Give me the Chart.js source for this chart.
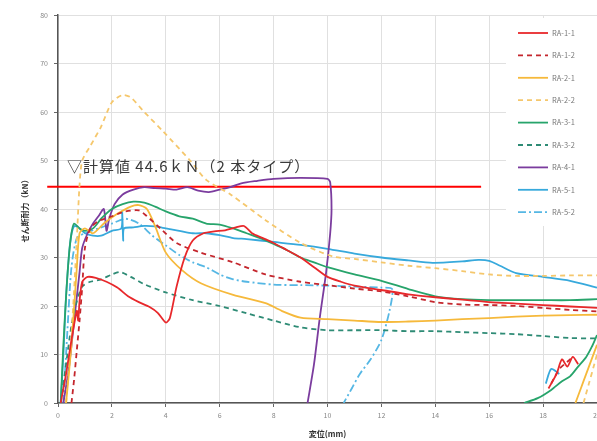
<!DOCTYPE html>
<html>
<head>
<meta charset="utf-8">
<script src="https://cdn.jsdelivr.net/npm/chart.js@4.4.1/dist/chart.umd.min.js"></script>
<style>
  html, body { margin: 0; padding: 0; background: #fff; overflow: hidden; }
  #wrap { width: 597px; height: 441px; overflow: hidden; position: relative; }
  canvas { display: block; }
</style>
</head>
<body>
<div id="wrap"><canvas id="c" width="620" height="441"></canvas></div>
<script>
// Load–displacement curves, [displacement mm, shear force kN]; a null force breaks the line.
const RA_1_1 = [[0.1,0],[0.3,6],[0.5,13],[0.7,19],[0.75,17],[0.8,21],[0.9,25],[1.1,26],[1.4,25.8],[1.8,25],[2.2,23.8],[2.6,22],[3.0,20.8],[3.4,19.8],[3.7,18.6],[4.0,16.6],[4.15,17.5],[4.4,24],[4.7,30],[5.0,33.5],[5.4,35],[5.8,35.4],[6.2,35.6],[6.6,36.2],[6.9,36.5],[7.2,35],[7.6,34],[8.0,33],[8.5,31.5],[9.0,30],[9.5,28],[10.0,26],[10.5,25],[11.0,24.2],[12.0,23.3],[13.0,22.4],[14.0,21.8],[15.0,21.3],[16.0,20.8],[17.0,20.5],[18.0,20.2],[19.0,19.9],[20.0,19.6],
  [18.2,null],[18.2,3],[18.5,6],[18.7,9],[18.9,7.5],[19.1,9.5],[19.3,8]];
const RA_1_2 = [[0.5,0],[0.6,5],[0.7,11],[0.8,17],[0.9,24],[1.0,32],[1.2,36],[1.5,37.5],[2.0,38.5],[2.5,39.5],[3.0,39.7],[3.3,38.5],[3.8,36],[4.4,33],[5.3,31],[6.5,29],[7.7,26.5],[9.0,25],[10.0,24.3],[11.0,23.6],[12.0,23],[13.0,22],[14.0,20.8],[15.0,20.3],[16.0,20.2],[17.0,20],[18.0,19.6],[19.0,19.2],[20.0,18.9],
  [18.3,null],[18.3,4],[18.6,7],[18.9,8.5],[19.1,9.5]];
const RA_2_1 = [[0.3,0],[0.5,12],[0.7,28],[0.8,35],[1.0,36],[1.3,35],[1.7,37],[2.2,39],[2.7,40.5],[3.0,40.8],[3.3,40],[3.6,36.5],[4.0,31],[4.6,27.4],[5.3,24.7],[6.5,22.3],[7.7,20.6],[8.3,19],[9.0,17.6],[10.0,17.3],[11.0,17],[12.0,16.7],[13.0,16.8],[14.0,17],[15.0,17.3],[16.0,17.5],[17.0,17.8],[18.0,18],[19.0,18.1],[20.0,18.2],
  [19.2,null],[19.2,0],[19.4,3],[19.6,6],[19.8,9],[20.0,12]];
const RA_2_2 = [[0.3,0],[0.5,14],[0.7,34],[0.8,45],[0.9,50],[1.2,53],[1.6,57],[2.0,62],[2.4,63.5],[2.7,63],[3.2,60],[3.9,56],[4.9,50],[5.5,46],[6.4,43],[7.7,37.7],[9.0,33],[10.2,30.2],[11.0,29.7],[12.0,29],[13.0,28.3],[14.0,27.8],[15.0,27.2],[16.0,26.5],[17.0,26.2],[18.0,26.2],[19.0,26.3],[20.0,26.3],
  [19.5,null],[19.5,0],[19.7,4],[19.9,8],[20.0,10]];
const RA_3_1 = [[0.1,0],[0.2,12],[0.3,22],[0.4,30],[0.5,35],[0.6,37],[0.8,36],[1.0,35.5],[1.3,36],[1.6,38],[2.0,40],[2.4,41],[2.8,41.5],[3.2,41.3],[3.6,40.5],[4.0,39.5],[4.5,38.5],[5.0,38],[5.5,37],[6.0,36.8],[6.5,36],[7.0,35],[7.5,34],[8.0,32.8],[8.5,31.5],[9.0,30],[9.5,29],[10.0,28],[11.0,26.5],[12.0,25.2],[13.0,23.5],[14.0,22],[15.0,21.4],[16.0,21.2],[17.0,21.2],[18.0,21.2],[19.0,21.2],[20.0,21.4],
  [17.3,null],[17.3,0],[17.8,1],[18.3,2.7],[18.7,4.5],[19.0,5.5],[19.3,7.5],[19.6,9.5],[19.8,11.5],[20.0,14]];
const RA_3_2 = [[0.1,0],[0.3,8],[0.5,16],[0.7,21],[0.9,24],[1.2,25],[1.6,25.5],[2.0,26.5],[2.3,27],[2.7,26],[3.2,24.5],[4.0,22.8],[5.0,21.2],[6.0,20],[7.0,18.5],[8.0,17],[9.0,15.6],[10.0,15],[11.0,15],[12.0,15],[13.0,14.8],[14.0,14.8],[15.0,14.6],[16.0,14.4],[17.0,14.2],[18.0,13.8],[19.0,13.4],[20.0,13.3]];
const RA_4_1 = [[0.2,0],[0.4,7],[0.6,17],[0.8,27],[0.9,32],[1.1,35],[1.3,37],[1.5,38.5],[1.7,40],[1.8,35.5],[1.9,38],[2.1,41],[2.4,43],[2.8,44],[3.2,44.5],[3.6,44.3],[4.0,44.2],[4.4,44],[4.8,44.5],[5.2,43.8],[5.6,43.5],[6.0,44],[6.4,44.5],[6.8,45.3],[7.4,45.8],[8.0,46.2],[9.0,46.4],[10.0,46.2],[10.1,45.5],[10.15,40],[10.1,35],[9.95,27],[9.7,17],[9.5,8],[9.26,0]];
const RA_5_1 = [[0.1,0],[0.2,10],[0.3,22],[0.45,33],[0.6,36.5],[0.8,36],[1.0,35],[1.3,34.5],[1.6,34.5],[2.0,35.5],[2.35,36],[2.38,39.5],[2.42,33.5],[2.45,36],[2.8,36.2],[3.2,36.5],[3.6,36.4],[4.0,36],[4.5,35.5],[5.0,35],[5.5,35],[6.0,34.6],[6.5,34],[7.0,33.8],[8.0,33.2],[9.0,32.6],[10.0,31.8],[11.0,30.8],[12.0,30],[13.0,29.4],[13.9,28.9],[15.0,29.2],[15.6,29.5],[16.0,29.3],[16.4,28.3],[17.0,26.8],[18.0,26],[19.0,25.2],[20.0,23.8],
  [18.1,null],[18.1,4],[18.3,7],[18.6,6]];
const RA_5_2 = [[0.2,0],[0.35,15],[0.5,28],[0.7,34],[1.0,35],[1.5,36],[2.0,37],[2.5,38],[3.0,37],[3.5,34.5],[4.0,32.5],[4.5,30.5],[5.0,29],[5.5,28],[6.0,26.5],[6.5,25.5],[7.0,25],[8.0,24.4],[9.0,24.3],[10.0,24.2],[11.0,24],[12.0,23.8],[12.4,23.5],[12.3,19],[12.0,13],[11.6,9],[11.2,6],[10.9,3],[10.6,0]];

const SERIES_NAMES = ['RA-1-1','RA-1-2','RA-2-1','RA-2-2','RA-3-1','RA-3-2','RA-4-1','RA-5-1','RA-5-2'];
const SERIES_DATA  = [RA_1_1, RA_1_2, RA_2_1, RA_2_2, RA_3_1, RA_3_2, RA_4_1, RA_5_1, RA_5_2];

// Design capacity line (2-bar type) and its span along the displacement axis.
const CALC_VALUE = 44.6;
const CALC_SPAN = [-0.4, 15.7];

const X_TICKS = { min: 0, max: 20, step: 2 };
const Y_TICKS = { min: 0, max: 80, step: 10 };

const FONT = "'Noto Sans CJK JP', 'Noto Sans', sans-serif";

const STYLES = [
  { color: '#e8282b', dash: [] },
  { color: '#c4262d', dash: [5, 4] },
  { color: '#f6b93b', dash: [] },
  { color: '#f5c76c', dash: [5, 4] },
  { color: '#27a46b', dash: [] },
  { color: '#2e8b75', dash: [5, 4] },
  { color: '#7b3c9e', dash: [] },
  { color: '#37a9dc', dash: [] },
  { color: '#55b7e4', dash: [8, 3, 2, 3] }
];

const toPoints = arr => arr.map(([x, y]) => ({ x, y }));

const datasets = SERIES_DATA.map((d, i) => ({
  label: SERIES_NAMES[i],
  data: toPoints(d),
  borderColor: STYLES[i].color,
  borderDash: STYLES[i].dash,
  borderWidth: 1.8,
  pointRadius: 0,
  tension: 0.25,
  fill: false,
  spanGaps: false
}));

datasets.push({
  label: 'calc',
  data: toPoints(CALC_SPAN.map(x => [x, CALC_VALUE])),
  borderColor: '#ff0000',
  borderWidth: 2,
  pointRadius: 0,
  tension: 0,
  clip: false
});

// Text label above the design capacity line.
const calcLabel = {
  id: 'calcLabel',
  afterDatasetsDraw(chart) {
    const { ctx } = chart;
    ctx.save();
    ctx.font = `15px ${FONT}`;
    ctx.letterSpacing = '1px';
    ctx.fillStyle = '#3a3a3a';
    ctx.textBaseline = 'middle';
    ctx.textAlign = 'left';
    ctx.fillText(`▽計算値 ${CALC_VALUE}ｋＮ（2 本タイプ）`, 67, 166);
    ctx.restore();
  }
};

// Legend box in the upper right corner of the plot.
const sideLegend = {
  id: 'sideLegend',
  afterDatasetsDraw(chart) {
    const { ctx } = chart;
    ctx.save();
    ctx.fillStyle = '#fff';
    ctx.fillRect(506, 18, 120, 208);
    SERIES_NAMES.forEach((name, i) => {
      const y = 33 + i * 22.4;
      ctx.strokeStyle = STYLES[i].color;
      ctx.lineWidth = 1.8;
      ctx.setLineDash(STYLES[i].dash);
      ctx.beginPath();
      ctx.moveTo(518, y);
      ctx.lineTo(548, y);
      ctx.stroke();
      ctx.setLineDash([]);
      ctx.font = `7.5px ${FONT}`;
      ctx.fillStyle = '#777';
      ctx.textBaseline = 'middle';
      ctx.textAlign = 'left';
      ctx.fillText(name, 552, y);
    });
    ctx.restore();
  }
};

new Chart(document.getElementById('c'), {
  type: 'line',
  data: { datasets },
  plugins: [calcLabel, sideLegend],
  options: {
    responsive: false,
    animation: false,
    devicePixelRatio: 1,
    layout: { padding: { top: 15, right: 23, left: 0, bottom: 0 } },
    plugins: { legend: { display: false }, tooltip: { enabled: false } },
    scales: {
      x: {
        type: 'linear',
        min: X_TICKS.min, max: X_TICKS.max,
        afterFit(s) { s.height = 38; },
        ticks: { stepSize: X_TICKS.step, color: '#888', font: { family: FONT, size: 7 }, padding: 4, maxRotation: 0 },
        grid: { color: '#e0e0e0', tickColor: '#666', tickLength: 4, lineWidth: 1 },
        border: { color: '#555', width: 1.5 },
        title: { display: true, text: '変位(mm)', color: '#333', font: { family: FONT, size: 8, weight: 'bold' }, padding: { top: 0, bottom: 2 } }
      },
      y: {
        type: 'linear',
        min: Y_TICKS.min, max: Y_TICKS.max,
        afterFit(s) { s.width = 58; },
        ticks: { stepSize: Y_TICKS.step, color: '#888', font: { family: FONT, size: 7 }, padding: 6 },
        grid: { color: '#e0e0e0', tickColor: '#666', tickLength: 4, lineWidth: 1 },
        border: { color: '#555', width: 1.5 },
        title: { display: true, text: 'せん断耐力（kN）', color: '#333', font: { family: FONT, size: 8, weight: 'bold' }, padding: { top: 20, bottom: 0 } }
      }
    }
  }
});
</script>
</body>
</html>
